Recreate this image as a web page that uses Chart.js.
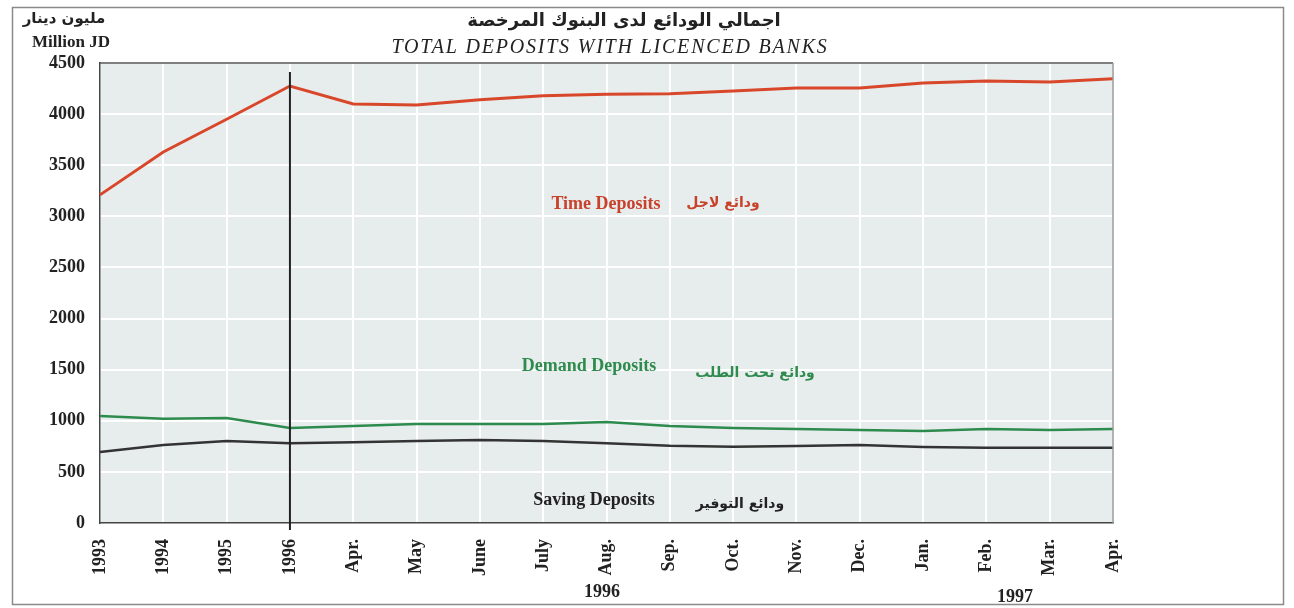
<!DOCTYPE html>
<html>
<head>
<meta charset="utf-8">
<script src="https://cdn.jsdelivr.net/npm/chart.js@4.4.1/dist/chart.umd.min.js"></script>
<style>
  html, body { margin: 0; padding: 0; background: #fff; }
  #wrap { width: 1294px; height: 608px; position: relative; }
</style>
</head>
<body>
<div id="wrap"><canvas id="chart"></canvas></div>
<script>
// categories along the x axis
const periods = ["1993", "1994", "1995", "1996", "Apr.", "May", "June", "July", "Aug.",
    "Sep.", "Oct.", "Nov.", "Dec.", "Jan.", "Feb.", "Mar.", "Apr."];

// million JD
const timeDeposits = [3210, 3630, 3950, 4275, 4100, 4090, 4140, 4180, 4195,
    4200, 4225, 4255, 4255, 4305, 4325, 4315, 4345];
const demandDeposits = [1047, 1020, 1027, 930, 950, 968, 968, 968, 988,
    950, 930, 920, 910, 900, 920, 910, 920];
const savingDeposits = [695, 763, 802, 780, 790, 802, 812, 802, 780,
    755, 745, 753, 763, 744, 735, 735, 735];

const yTicks = [0, 500, 1000, 1500, 2000, 2500, 3000, 3500, 4000, 4500];

const serifBold = "bold 18px 'Liberation Serif', serif";
const arabicFont = "bold 14px 'DejaVu Sans', sans-serif";

// background, frame, titles and series notes
const decorations = {
    id: "decorations",
    beforeDraw(chart) {
        const { ctx, chartArea: a } = chart;
        ctx.save();
        ctx.fillStyle = "#fff";
        ctx.fillRect(0, 0, chart.width, chart.height);
        ctx.fillStyle = "#e7eded";
        ctx.fillRect(a.left, a.top, a.right - a.left, a.bottom - a.top);
        ctx.restore();
    },
    afterDraw(chart) {
        const { ctx, chartArea: a, scales } = chart;
        const x = scales.x;
        ctx.save();

        // outer frame
        ctx.strokeStyle = "#8a8a8a";
        ctx.lineWidth = 1.5;
        ctx.strokeRect(12.5, 7.5, 1271, 597);

        // plot box top / right
        ctx.strokeStyle = "#555";
        ctx.lineWidth = 1.5;
        ctx.beginPath();
        ctx.moveTo(a.left, a.top);
        ctx.lineTo(a.right, a.top);
        ctx.stroke();
        ctx.strokeStyle = "#999";
        ctx.beginPath();
        ctx.moveTo(a.right, a.top);
        ctx.lineTo(a.right, a.bottom);
        ctx.stroke();

        // separator between yearly and monthly data
        const sx = x.getPixelForValue(3);
        ctx.strokeStyle = "#222";
        ctx.lineWidth = 2;
        ctx.beginPath();
        ctx.moveTo(sx, a.top + 9);
        ctx.lineTo(sx, a.bottom + 7);
        ctx.stroke();

        // unit
        ctx.fillStyle = "#222";
        ctx.textAlign = "center";
        ctx.textBaseline = "middle";
        ctx.font = "bold 15px 'DejaVu Sans', sans-serif";
        ctx.fillText("مليون دينار", 64, 19);
        ctx.font = "bold 17px 'Liberation Serif', serif";
        ctx.fillText("Million JD", 71, 43);

        // titles
        ctx.font = "bold 18px 'DejaVu Sans', sans-serif";
        ctx.fillText("اجمالي الودائع لدى البنوك المرخصة", 624, 21);
        ctx.font = "italic 20px 'Liberation Serif', serif";
        ctx.letterSpacing = "1.8px";
        ctx.fillText("TOTAL DEPOSITS WITH LICENCED BANKS", 610, 48);
        ctx.letterSpacing = "0px";

        // series notes
        const notes = [
            ["Time Deposits", 606, 204, "ودائع لاجل", 723, 203, "#c8412b"],
            ["Demand Deposits", 589, 366, "ودائع تحت الطلب", 755, 373, "#2f8a4e"],
            ["Saving Deposits", 594, 500, "ودائع التوفير", 740, 504, "#222"]
        ];
        notes.forEach(([en, ex, ey, ar, ax, ay, col]) => {
            ctx.fillStyle = col;
            ctx.font = serifBold;
            ctx.fillText(en, ex, ey);
            ctx.font = arabicFont;
            ctx.fillText(ar, ax, ay);
        });

        // year captions under the months
        ctx.fillStyle = "#222";
        ctx.font = serifBold;
        ctx.fillText("1996", 602, 592);
        ctx.fillText("1997", 1015, 597);
        ctx.restore();
    }
};

new Chart(document.getElementById("chart"), {
    type: "line",
    data: {
        labels: periods,
        datasets: [
            { label: "Time Deposits", data: timeDeposits, borderColor: "#d9472b", borderWidth: 3 },
            { label: "Demand Deposits", data: demandDeposits, borderColor: "#2e8b4e", borderWidth: 2.5 },
            { label: "Saving Deposits", data: savingDeposits, borderColor: "#333", borderWidth: 2.5 }
        ]
    },
    options: {
        responsive: true,
        maintainAspectRatio: false,
        animation: false,
        elements: {
            point: { radius: 0 },
            line: { tension: 0 }
        },
        layout: { padding: { left: 0, right: 181, top: 63, bottom: 0 } },
        plugins: {
            legend: { display: false },
            tooltip: { enabled: false }
        },
        scales: {
            x: {
                offset: false,
                grid: { color: "#ffffff", lineWidth: 2, drawTicks: false },
                border: { color: "#444", width: 1.5 },
                ticks: {
                    font: { family: "'Liberation Serif', serif", size: 18, weight: "bold" },
                    color: "#222",
                    maxRotation: 90,
                    minRotation: 90,
                    padding: 16,
                    autoSkip: false
                },
                afterFit(scale) { scale.height = 85; }
            },
            y: {
                min: 0,
                max: 4500,
                grid: { color: "#ffffff", lineWidth: 2, drawTicks: false },
                border: { color: "#444", width: 1.5 },
                afterBuildTicks(scale) { scale.ticks = yTicks.map(v => ({ value: v })); },
                ticks: {
                    font: { family: "'Liberation Serif', serif", size: 18, weight: "bold" },
                    color: "#222",
                    padding: 15,
                    callback: (v) => String(v)
                },
                afterFit(scale) { scale.width = 100; }
            }
        }
    },
    plugins: [decorations]
});
</script>
</body>
</html>
